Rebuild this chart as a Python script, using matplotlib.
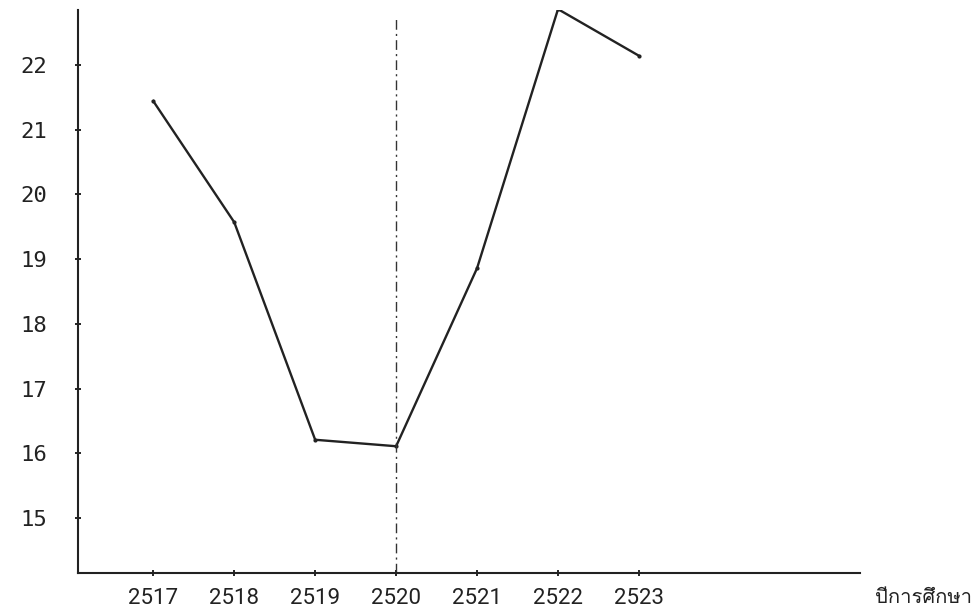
import matplotlib
matplotlib.use("Agg")
import matplotlib.pyplot as plt
from matplotlib import font_manager
from matplotlib.ft2font import FT2Font

# values
years = [2517, 2518, 2519, 2520, 2521, 2522, 2523]
values = [21.44, 19.57, 16.21, 16.11, 18.86, 22.86, 22.14]
y_ticks = [15, 16, 17, 18, 19, 20, 21, 22]
marker_year = 2520
x_title = "ปีการศึกษา"


def thai_font():
    # look for an installed font that has Thai glyphs
    for f in font_manager.fontManager.ttflist:
        try:
            if 0x0E1B in FT2Font(f.fname).get_charmap():
                return f.name
        except Exception:
            continue
    return "DejaVu Sans"


fig = plt.figure(figsize=(9.75, 6.13), dpi=100)
ax = fig.add_axes([0.08, 0.065, 0.802, 0.919])

# main line
ax.plot(years, values, color="#222222", linewidth=1.7, marker="o",
        markersize=2, solid_joinstyle="miter")

# dash-dot reference line at 2520
ax.plot([marker_year, marker_year], [14.15, 22.73], color="#333333",
        linewidth=1.0, linestyle=(0, (7, 3, 1.5, 3)))

ax.set_xlim(2516.07, 2525.73)
ax.set_ylim(14.15, 22.85)

for side in ["top", "right"]:
    ax.spines[side].set_visible(False)
for side in ["left", "bottom"]:
    ax.spines[side].set_linewidth(1.5)
    ax.spines[side].set_color("#222222")

ax.set_yticks(y_ticks)
ax.set_yticklabels([str(v) for v in y_ticks], family="DejaVu Sans Mono",
                   fontsize=16, color="#222222")
ax.set_xticks(years)
ax.set_xticklabels([str(y) for y in years],
                   family=["Liberation Sans Narrow", "Roboto"],
                   fontsize=16, color="#222222")
ax.tick_params(axis="y", direction="inout", length=5, width=1.2, pad=20)
ax.tick_params(axis="x", direction="inout", length=5, width=1.2, pad=8)

ax.text(0.997, 0.026, x_title, transform=fig.transFigure, ha="right",
        va="center", fontsize=14.5, color="#222222",
        family=[thai_font(), "DejaVu Sans"])

fig.savefig("out.png", dpi=100, facecolor="white")
